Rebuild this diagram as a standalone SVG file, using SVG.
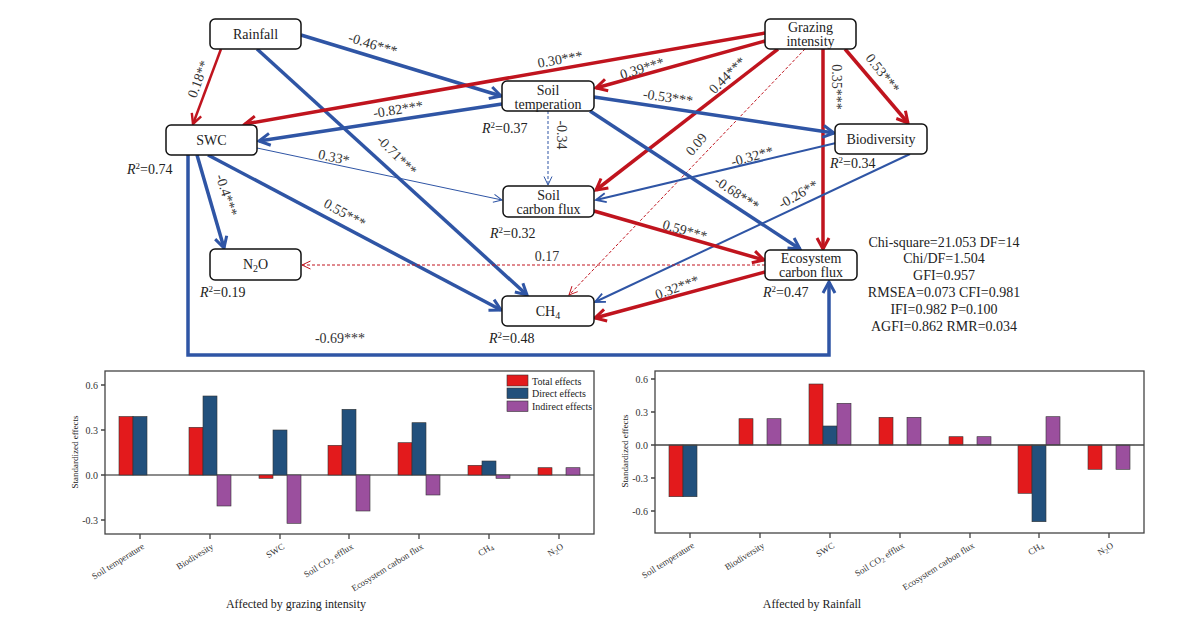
<svg xmlns="http://www.w3.org/2000/svg" width="1177" height="636" viewBox="0 0 1177 636">
<defs>
<style>
text{font-family:"Liberation Serif","Times New Roman",serif;fill:#222}
.n rect{fill:#fff;stroke:#111;stroke-width:1.5}
.n text{font-size:14px;text-anchor:middle}
.lbl{font-size:14px;text-anchor:middle;fill:#333}
.r2{font-size:14px;fill:#222}
.st{font-size:14px;text-anchor:middle;fill:#222}
.bT{stroke:#2F55A5;stroke-width:3.5;fill:none}
.bM{stroke:#2F55A5;stroke-width:2;fill:none}
.bS{stroke:#2F55A5;stroke-width:1;fill:none}
.bD{stroke:#2F55A5;stroke-width:1;fill:none;stroke-dasharray:3 2}
.rT{stroke:#C0141E;stroke-width:3.5;fill:none}
.rM{stroke:#C0141E;stroke-width:2.5;fill:none}
.rD{stroke:#C0141E;stroke-width:1;fill:none;stroke-dasharray:3 2}
.ax{stroke:#444;stroke-width:1.3;fill:none}
.zl{stroke:#666;stroke-width:1.5}
.tk{font-size:10px;text-anchor:end;fill:#333}
.cl{font-size:9px;text-anchor:end;fill:#333}
.yt{font-size:9px;text-anchor:middle;fill:#222}
.xt{font-size:12px;text-anchor:middle;fill:#222}
.lg{font-size:10px;fill:#222}
.br{fill:#E31A1C;stroke:#333;stroke-width:0.6}
.bb{fill:#22507C;stroke:#333;stroke-width:0.6}
.bp{fill:#9B4F9E;stroke:#333;stroke-width:0.6}
</style>
<marker id="aBT" viewBox="0 0 16 16" refX="13" refY="8" markerWidth="16" markerHeight="16" markerUnits="userSpaceOnUse" orient="auto" overflow="visible"><path d="M2,2 L13,8 L2,14" fill="none" stroke="#2F55A5" stroke-width="3"/></marker>
<marker id="aRT" viewBox="0 0 16 16" refX="13" refY="8" markerWidth="16" markerHeight="16" markerUnits="userSpaceOnUse" orient="auto" overflow="visible"><path d="M2,2 L13,8 L2,14" fill="none" stroke="#C0141E" stroke-width="3"/></marker>
<marker id="aRM" viewBox="0 0 14 14" refX="12" refY="7" markerWidth="14" markerHeight="14" markerUnits="userSpaceOnUse" orient="auto" overflow="visible"><path d="M2,2 L12,7 L2,12" fill="none" stroke="#C0141E" stroke-width="2.4"/></marker>
<marker id="aBM" viewBox="0 0 12 12" refX="11" refY="6" markerWidth="12" markerHeight="12" markerUnits="userSpaceOnUse" orient="auto" overflow="visible"><path d="M1,1.5 L11,6 L1,10.5" fill="none" stroke="#2F55A5" stroke-width="1.8"/></marker>
<marker id="aBS" viewBox="0 0 10 10" refX="9.5" refY="5" markerWidth="10" markerHeight="10" markerUnits="userSpaceOnUse" orient="auto" overflow="visible"><path d="M1,1 L9.5,5 L1,9" fill="none" stroke="#2F55A5" stroke-width="1"/></marker>
<marker id="aRS" viewBox="0 0 10 10" refX="9.5" refY="5" markerWidth="10" markerHeight="10" markerUnits="userSpaceOnUse" orient="auto" overflow="visible"><path d="M1,1 L9.5,5 L1,9" fill="none" stroke="#C0141E" stroke-width="1"/></marker>
</defs>
<rect width="1177" height="636" fill="#fff"/>

<g id="connectors">
<line class="rM" x1="221" y1="49" x2="193" y2="124" marker-end="url(#aRM)"/>
<line class="bT" x1="301" y1="35" x2="501" y2="96" marker-end="url(#aBT)"/>
<line class="bT" x1="257" y1="49" x2="527" y2="295" marker-end="url(#aBT)"/>
<line class="bT" x1="208" y1="155" x2="501" y2="310" marker-end="url(#aBT)"/>
<line class="bT" x1="197" y1="155" x2="224" y2="248" marker-end="url(#aBT)"/>
<line class="bS" x1="257" y1="148" x2="502" y2="200" marker-end="url(#aBS)"/>
<line class="bT" x1="502" y1="104" x2="259" y2="141" marker-end="url(#aBT)"/>
<line class="rT" x1="765" y1="33" x2="245" y2="124" marker-end="url(#aRT)"/>
<line class="rT" x1="765" y1="41" x2="596" y2="88" marker-end="url(#aRT)"/>
<line class="rT" x1="778" y1="49" x2="596" y2="190" marker-end="url(#aRT)"/>
<line class="rD" x1="805" y1="49" x2="569" y2="295" marker-end="url(#aRS)"/>
<line class="rT" x1="823" y1="49" x2="823" y2="249" marker-end="url(#aRT)"/>
<line class="rT" x1="845" y1="49" x2="908" y2="123" marker-end="url(#aRT)"/>
<line class="bD" x1="548" y1="111" x2="548" y2="185" marker-end="url(#aBS)"/>
<line class="bT" x1="594" y1="97" x2="834" y2="133" marker-end="url(#aBT)"/>
<line class="bT" x1="590" y1="111" x2="800" y2="249" marker-end="url(#aBT)"/>
<line class="bM" x1="836" y1="143" x2="596" y2="200" marker-end="url(#aBM)"/>
<line class="bM" x1="910" y1="154" x2="595" y2="302" marker-end="url(#aBM)"/>
<line class="rT" x1="594" y1="211" x2="764" y2="260" marker-end="url(#aRT)"/>
<line class="rD" x1="765" y1="265" x2="302" y2="265" marker-end="url(#aRS)"/>
<line class="rT" x1="765" y1="272" x2="595" y2="318" marker-end="url(#aRT)"/>
<polyline class="bT" points="188,155 188,355 829,355 829,282" marker-end="url(#aBT)"/>

<text class="lbl" transform="translate(198,79) rotate(-70)" y="5">0.18**</text>
<text class="lbl" transform="translate(373,44) rotate(17)" y="5">-0.46***</text>
<text class="lbl" transform="translate(397,155) rotate(45)" y="5">-0.71***</text>
<text class="lbl" transform="translate(345,213) rotate(29)" y="5">0.55***</text>
<text class="lbl" transform="translate(227,195) rotate(72)" y="5">-0.4***</text>
<text class="lbl" transform="translate(334,157) rotate(12)" y="5">0.33*</text>
<text class="lbl" transform="translate(398,109) rotate(-9)" y="5">-0.82***</text>
<text class="lbl" transform="translate(560,59) rotate(-10)" y="5">0.30***</text>
<text class="lbl" transform="translate(642,68) rotate(-17)" y="5">0.39***</text>
<text class="lbl" transform="translate(727,75) rotate(-45)" y="5">0.44***</text>
<text class="lbl" transform="translate(696,144) rotate(-50)" y="5">0.09</text>
<text class="lbl" transform="translate(837,87) rotate(90)" y="5">0.35***</text>
<text class="lbl" transform="translate(883,73) rotate(52)" y="5">0.53***</text>
<text class="lbl" transform="translate(562,135) rotate(90)" y="5">-0.34</text>
<text class="lbl" transform="translate(668,97) rotate(8)" y="5">-0.53***</text>
<text class="lbl" transform="translate(737,193) rotate(34)" y="5">-0.68***</text>
<text class="lbl" transform="translate(752,156) rotate(-15)" y="5">-0.32**</text>
<text class="lbl" transform="translate(798,194) rotate(-30)" y="5">-0.26**</text>
<text class="lbl" transform="translate(685,230) rotate(16)" y="5">0.59***</text>
<text class="lbl" x="547" y="261">0.17</text>
<text class="lbl" transform="translate(677,287) rotate(-20)" y="5">0.32***</text>
<text class="lbl" x="340" y="343">-0.69***</text>
</g>

<g id="node-rainfall" class="n"><rect x="210" y="19" width="91" height="30" rx="5"/><text x="255.5" y="39">Rainfall</text></g>
<g id="node-grazing" class="n"><rect x="765" y="19" width="91" height="30" rx="5"/><text x="810.5" y="32">Grazing</text><text x="810.5" y="46">intensity</text></g>
<g id="node-soiltemp" class="n"><rect x="502" y="81" width="92" height="30" rx="5"/><text x="548" y="95">Soil</text><text x="548" y="109">temperation</text></g>
<g id="node-swc" class="n"><rect x="166" y="125" width="91" height="30" rx="5"/><text x="211.5" y="145">SWC</text></g>
<g id="node-biodiversity" class="n"><rect x="835" y="124" width="92" height="30" rx="5"/><text x="881" y="144">Biodiversity</text></g>
<g id="node-soilcarbon" class="n"><rect x="503" y="186" width="91" height="31" rx="5"/><text x="548.5" y="200">Soil</text><text x="548.5" y="214">carbon flux</text></g>
<g id="node-ecosystem" class="n"><rect x="765" y="250" width="92" height="30" rx="5"/><text x="811" y="263">Ecosystem</text><text x="811" y="277">carbon flux</text></g>
<g id="node-n2o" class="n"><rect x="210" y="249" width="91" height="31" rx="5"/><text x="255.5" y="269">N<tspan font-size="10" dy="3">2</tspan><tspan dy="-3">O</tspan></text></g>
<g id="node-ch4" class="n"><rect x="502" y="296" width="92" height="30" rx="5"/><text x="548" y="316">CH<tspan font-size="10" dy="3">4</tspan></text></g>

<g id="r2-labels">
<text class="r2" x="127" y="174"><tspan font-style="italic">R</tspan><tspan font-size="9" dy="-5">2</tspan><tspan dy="5">=0.74</tspan></text>
<text class="r2" x="482" y="133"><tspan font-style="italic">R</tspan><tspan font-size="9" dy="-5">2</tspan><tspan dy="5">=0.37</tspan></text>
<text class="r2" x="490" y="238"><tspan font-style="italic">R</tspan><tspan font-size="9" dy="-5">2</tspan><tspan dy="5">=0.32</tspan></text>
<text class="r2" x="830" y="168"><tspan font-style="italic">R</tspan><tspan font-size="9" dy="-5">2</tspan><tspan dy="5">=0.34</tspan></text>
<text class="r2" x="763" y="297"><tspan font-style="italic">R</tspan><tspan font-size="9" dy="-5">2</tspan><tspan dy="5">=0.47</tspan></text>
<text class="r2" x="200" y="297"><tspan font-style="italic">R</tspan><tspan font-size="9" dy="-5">2</tspan><tspan dy="5">=0.19</tspan></text>
<text class="r2" x="489" y="343"><tspan font-style="italic">R</tspan><tspan font-size="9" dy="-5">2</tspan><tspan dy="5">=0.48</tspan></text>
</g>

<g id="fit-stats">
<text class="st" x="944" y="247">Chi-square=21.053 DF=14</text>
<text class="st" x="944" y="263">Chi/DF=1.504</text>
<text class="st" x="944" y="280">GFI=0.957</text>
<text class="st" x="944" y="297">RMSEA=0.073 CFI=0.981</text>
<text class="st" x="944" y="314">IFI=0.982 P=0.100</text>
<text class="st" x="944" y="331">AGFI=0.862 RMR=0.034</text>
</g>

<g id="chart-grazing">
<line class="zl" x1="105" y1="475" x2="594" y2="475"/>
<rect class="br" x="119" y="416.5" width="14" height="58.5"/><rect class="bb" x="133" y="416.5" width="14" height="58.5"/>
<rect class="br" x="189" y="427.3" width="14" height="47.7"/><rect class="bb" x="203" y="396" width="14" height="79"/><rect class="bp" x="217" y="475" width="14" height="31"/>
<rect class="br" x="259" y="475" width="14" height="3.3"/><rect class="bb" x="273" y="430" width="14" height="45"/><rect class="bp" x="287" y="475" width="14" height="48.3"/>
<rect class="br" x="328" y="445.3" width="14" height="29.7"/><rect class="bb" x="342" y="409.3" width="14" height="65.7"/><rect class="bp" x="356" y="475" width="14" height="36"/>
<rect class="br" x="398" y="442.7" width="14" height="32.3"/><rect class="bb" x="412" y="422.7" width="14" height="52.3"/><rect class="bp" x="426" y="475" width="14" height="20"/>
<rect class="br" x="468" y="465.3" width="14" height="9.7"/><rect class="bb" x="482" y="461" width="14" height="14"/><rect class="bp" x="496" y="475" width="14" height="3.3"/>
<rect class="br" x="538" y="467.7" width="14" height="7.3"/><rect class="bp" x="566" y="467.7" width="14" height="7.3"/>
<rect x="105" y="371" width="489" height="163" class="ax"/>
<path class="ax" d="M101,385H105M101,430H105M101,475H105M101,520H105M140,534V539M210,534V539M280,534V539M349,534V539M419,534V539M489,534V539M559,534V539"/>
<text class="tk" x="98" y="388.5">0.6</text>
<text class="tk" x="98" y="433.5">0.3</text>
<text class="tk" x="98" y="478.5">0.0</text>
<text class="tk" x="98" y="523.5">-0.3</text>
<text class="yt" transform="translate(78,452) rotate(-90)">Standardized effects</text>
<text class="cl" transform="translate(145,548) rotate(-32)">Soil temperature</text>
<text class="cl" transform="translate(214,548) rotate(-32)">Biodivesity</text>
<text class="cl" transform="translate(285,548) rotate(-32)">SWC</text>
<text class="cl" transform="translate(354,548) rotate(-32)">Soil CO<tspan font-size="7" dy="2">2</tspan><tspan dy="-2"> efflux</tspan></text>
<text class="cl" transform="translate(424,548) rotate(-32)">Ecosystem carbon flux</text>
<text class="cl" transform="translate(494,548) rotate(-32)">CH<tspan font-size="7" dy="2">4</tspan></text>
<text class="cl" transform="translate(564,548) rotate(-32)">N<tspan font-size="7" dy="2">2</tspan><tspan dy="-2">O</tspan></text>
<text class="xt" x="296" y="608">Affected by grazing intensity</text>
<rect class="br" x="507" y="375" width="21" height="11"/>
<rect class="bb" x="507" y="388" width="21" height="10.5"/>
<rect class="bp" x="507" y="401" width="21" height="10.5"/>
<text class="lg" x="532" y="384.5">Total effects</text>
<text class="lg" x="532" y="397">Direct effects</text>
<text class="lg" x="532" y="410">Indirect effects</text>
</g>

<g id="chart-rainfall">
<rect class="br" x="669" y="445" width="14" height="51.7"/><rect class="bb" x="683" y="445" width="14" height="51.7"/>
<rect class="br" x="739" y="418.7" width="14" height="26.3"/><rect class="bp" x="767" y="418.7" width="14" height="26.3"/>
<rect class="br" x="809" y="384" width="14" height="61"/><rect class="bb" x="823" y="426" width="14" height="19"/><rect class="bp" x="837" y="403.3" width="14" height="41.7"/>
<rect class="br" x="879" y="417.3" width="14" height="27.7"/><rect class="bp" x="907" y="417.3" width="14" height="27.7"/>
<rect class="br" x="949" y="436.7" width="14" height="8.3"/><rect class="bp" x="977" y="436.7" width="14" height="8.3"/>
<rect class="br" x="1018" y="445" width="14" height="48.3"/><rect class="bb" x="1032" y="445" width="14" height="76.7"/><rect class="bp" x="1046" y="416.7" width="14" height="28.3"/>
<rect class="br" x="1088" y="445" width="14" height="24.3"/><rect class="bp" x="1116" y="445" width="14" height="24.3"/>
<line x1="655" y1="445" x2="1144" y2="445" stroke="#444" stroke-width="1.5"/>
<rect x="655" y="371" width="489" height="162" class="ax"/>
<path class="ax" d="M651,379H655M651,412H655M651,445H655M651,478H655M651,511H655M690,533V538M760,533V538M830,533V538M900,533V538M970,533V538M1039,533V538M1109,533V538"/>
<text class="tk" x="648" y="382.5">0.6</text>
<text class="tk" x="648" y="415.5">0.3</text>
<text class="tk" x="648" y="448.5">0.0</text>
<text class="tk" x="648" y="481.5">-0.3</text>
<text class="tk" x="648" y="514.5">-0.6</text>
<text class="yt" transform="translate(628,451) rotate(-90)">Standardized effects</text>
<text class="cl" transform="translate(695,547) rotate(-32)">Soil temperature</text>
<text class="cl" transform="translate(765,547) rotate(-32)">Biodiversity</text>
<text class="cl" transform="translate(835,547) rotate(-32)">SWC</text>
<text class="cl" transform="translate(905,547) rotate(-32)">Soil CO<tspan font-size="7" dy="2">2</tspan><tspan dy="-2"> efflux</tspan></text>
<text class="cl" transform="translate(975,547) rotate(-32)">Ecosystem carbon flux</text>
<text class="cl" transform="translate(1044,547) rotate(-32)">CH<tspan font-size="7" dy="2">4</tspan></text>
<text class="cl" transform="translate(1114,547) rotate(-32)">N<tspan font-size="7" dy="2">2</tspan><tspan dy="-2">O</tspan></text>
<text class="xt" x="812" y="608">Affected by Rainfall</text>
</g>
</svg>
